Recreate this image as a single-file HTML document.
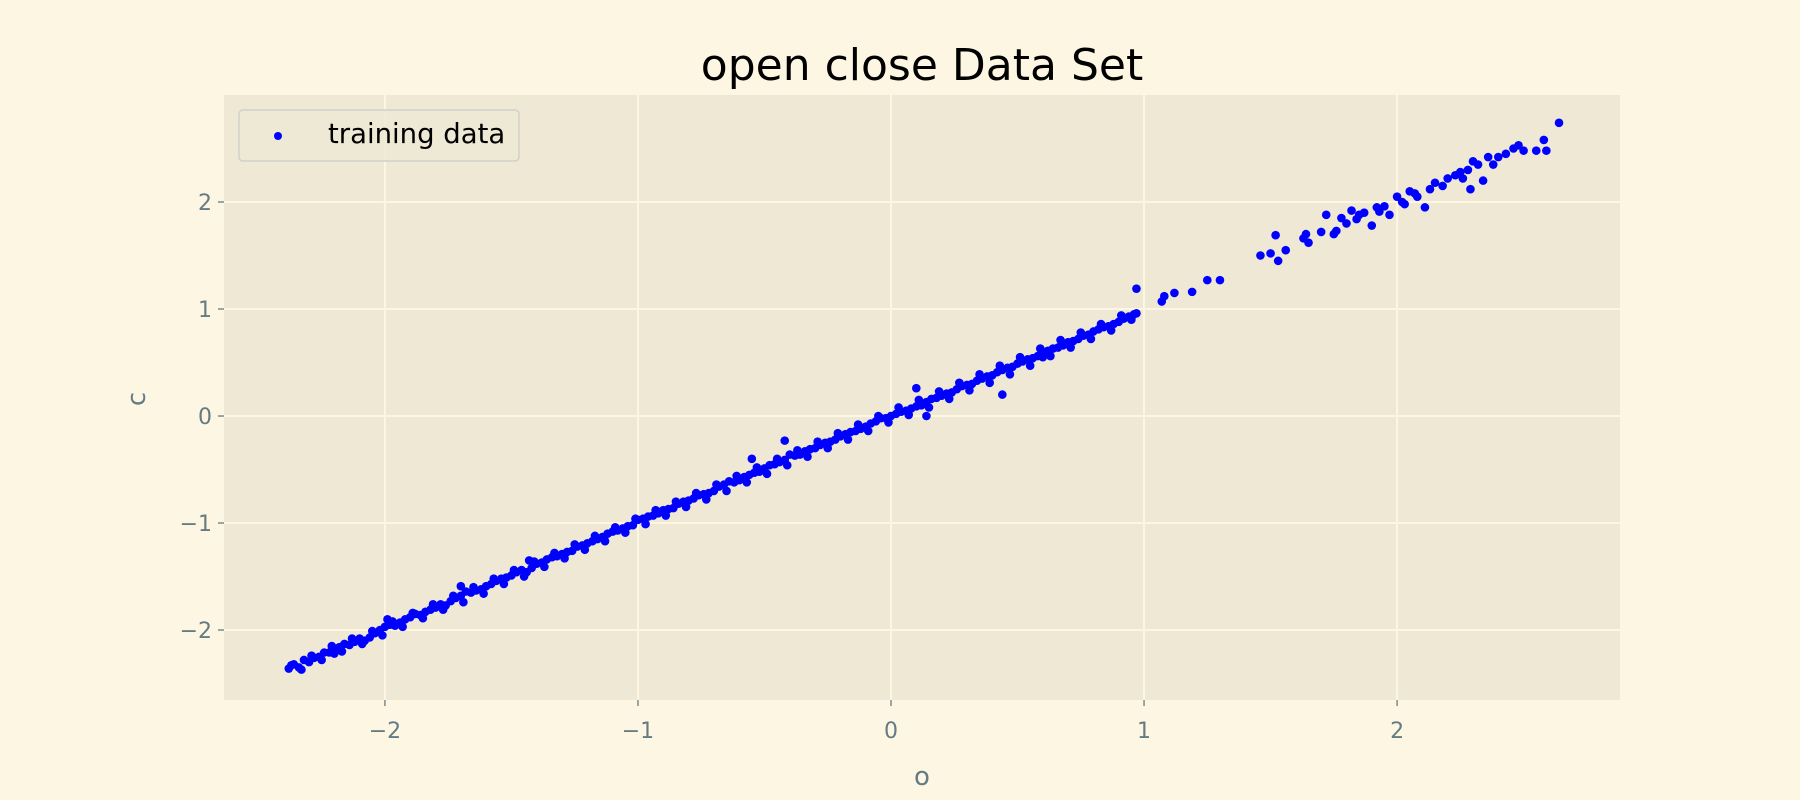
<!DOCTYPE html>
<html><head><meta charset="utf-8"><style>
body{margin:0;background:#fdf6e3;}
svg{display:block;font-family:"DejaVu Sans","Liberation Sans",sans-serif;}
</style></head><body>
<svg id="chart" width="1800" height="800" viewBox="0 0 1800 800">
<rect width="1800" height="800" fill="#fdf6e3"/>
<rect x="224" y="95" width="1396" height="605" fill="#eee8d5"/>
<g id="grid"></g>
<g id="ticks"></g>
<g id="points"></g>
<text x="922" y="80" text-anchor="middle" font-size="44" fill="#000">open close Data Set</text>
<text x="922" y="785" text-anchor="middle" font-size="26" fill="#657b83">o</text>
<text x="145" y="399" text-anchor="middle" font-size="26" fill="#657b83" transform="rotate(-90 145 399)">c</text>
<g>
<rect x="239" y="110" width="280" height="51" rx="4" fill="#eee8d5" fill-opacity="0.8" stroke="#d0d0cc" stroke-width="1.5"/>
<circle cx="278" cy="136" r="4" fill="#0000ff"/>
<text x="328" y="143" font-size="27.5" fill="#000">training data</text>
</g>
</svg>
<script>
const xTicks=[-2,-1,0,1,2];
const yTicks=[-2,-1,0,1,2];
const openVals=[-2.38,-2.34,-2.30,-2.26,-2.22,-2.18,-2.14,-2.10,-2.06,-2.02,-1.98,-1.94,-1.90,-1.86,-1.82,-1.78,-1.74,-1.70,-1.66,-1.62,-1.58,-1.54,-1.50,-1.46,-1.42,-1.38,-1.34,-1.30,-1.26,-1.22,-1.18,-1.14,-1.10,-1.06,-1.02,-0.98,-0.94,-0.90,-0.86,-0.82,-0.78,-0.74,-0.70,-0.66,-0.62,-0.58,-0.54,-0.50,-0.46,-0.42,-0.38,-0.34,-0.30,-0.26,-0.22,-0.18,-0.14,-0.10,-0.06,-0.02,0.02,0.06,0.10,0.14,0.18,0.22,0.26,0.30,0.34,0.38,0.42,0.46,0.50,0.54,0.58,0.62,0.66,0.70,0.74,0.78,0.82,0.86,0.90,0.94,0.97,
-2.36,-2.32,-2.28,-2.24,-2.20,-2.16,-2.12,-2.08,-2.04,-2.00,-1.96,-1.92,-1.88,-1.84,-1.80,-1.76,-1.72,-1.68,-1.64,-1.60,-1.56,-1.52,-1.48,-1.44,-1.40,-1.36,-1.32,-1.28,-1.24,-1.20,-1.16,-1.12,-1.08,-1.04,-1.00,-0.96,-0.92,-0.88,-0.84,-0.80,-0.76,-0.72,-0.68,-0.64,-0.60,-0.56,-0.52,-0.48,-0.44,-0.40,-0.36,-0.32,-0.28,-0.24,-0.20,-0.16,-0.12,-0.08,-0.04,0.00,0.04,0.08,0.12,0.16,0.20,0.24,0.28,0.32,0.36,0.40,0.44,0.48,0.52,0.56,0.60,0.64,0.68,0.72,0.76,0.80,0.84,0.88,0.92,0.96,
-2.37,-2.33,-2.29,-2.25,-2.21,-2.17,-2.13,-2.09,-2.05,-2.01,-1.97,-1.93,-1.89,-1.85,-1.81,-1.77,-1.73,-1.69,-1.65,-1.61,-1.57,-1.53,-1.49,-1.45,-1.41,-1.37,-1.33,-1.29,-1.25,-1.21,-1.17,-1.13,-1.09,-1.05,-1.01,-0.97,-0.93,-0.89,-0.85,-0.81,-0.77,-0.73,-0.69,-0.65,-0.61,-0.57,-0.53,-0.49,-0.45,-0.41,-0.37,-0.33,-0.29,-0.25,-0.21,-0.17,-0.13,-0.09,-0.05,-0.01,0.03,0.07,0.11,0.15,0.19,0.23,0.27,0.31,0.35,0.39,0.43,0.47,0.51,0.55,0.59,0.63,0.67,0.71,0.75,0.79,0.83,0.87,0.91,0.95,
-2.20,-1.99,-1.70,-1.43,-0.55,-0.42,0.10,0.44,0.14,0.60,
0.97,1.07,1.08,1.12,1.19,1.25,1.30,1.46,1.50,1.52,1.53,1.56,1.63,1.64,
1.65,1.70,1.72,1.75,1.78,1.80,1.82,1.85,1.87,1.90,1.92,1.95,1.97,2.00,2.02,2.05,2.08,2.11,2.13,2.15,2.20,2.23,2.26,2.28,2.29,2.30,2.32,2.34,2.36,2.40,2.43,2.46,2.48,2.50,2.55,2.58,2.59,2.64,1.84,1.93,2.03,2.07,2.18,2.25,2.38,1.76];
const closeVals=[-2.36,-2.35,-2.30,-2.25,-2.21,-2.16,-2.14,-2.08,-2.07,-2.00,-1.95,-1.93,-1.88,-1.86,-1.81,-1.76,-1.73,-1.68,-1.65,-1.62,-1.57,-1.52,-1.49,-1.44,-1.42,-1.37,-1.32,-1.29,-1.26,-1.21,-1.17,-1.13,-1.08,-1.05,-1.02,-0.96,-0.93,-0.88,-0.86,-0.80,-0.77,-0.73,-0.70,-0.64,-0.62,-0.57,-0.53,-0.49,-0.45,-0.41,-0.37,-0.33,-0.30,-0.25,-0.22,-0.17,-0.14,-0.10,-0.05,-0.02,0.02,0.05,0.09,0.13,0.17,0.21,0.25,0.29,0.33,0.37,0.41,0.45,0.49,0.53,0.56,0.61,0.64,0.69,0.72,0.76,0.81,0.84,0.88,0.93,0.96,
-2.32,-2.28,-2.26,-2.21,-2.19,-2.13,-2.11,-2.10,-2.03,-1.97,-1.96,-1.90,-1.85,-1.83,-1.79,-1.77,-1.70,-1.64,-1.63,-1.59,-1.54,-1.51,-1.46,-1.46,-1.38,-1.34,-1.31,-1.27,-1.22,-1.19,-1.15,-1.10,-1.07,-1.03,-0.97,-0.94,-0.91,-0.87,-0.82,-0.79,-0.74,-0.72,-0.66,-0.61,-0.60,-0.55,-0.52,-0.46,-0.43,-0.36,-0.36,-0.31,-0.27,-0.24,-0.19,-0.15,-0.12,-0.07,-0.02,0.00,0.04,0.07,0.10,0.16,0.19,0.22,0.28,0.30,0.35,0.38,0.43,0.46,0.51,0.54,0.58,0.63,0.66,0.70,0.75,0.79,0.83,0.86,0.91,0.95,
-2.33,-2.37,-2.24,-2.28,-2.15,-2.20,-2.08,-2.13,-2.01,-2.05,-1.92,-1.97,-1.84,-1.89,-1.76,-1.81,-1.68,-1.74,-1.60,-1.66,-1.52,-1.57,-1.44,-1.50,-1.36,-1.41,-1.28,-1.33,-1.20,-1.25,-1.12,-1.17,-1.04,-1.09,-0.96,-1.01,-0.88,-0.93,-0.80,-0.85,-0.72,-0.78,-0.64,-0.70,-0.56,-0.62,-0.48,-0.54,-0.40,-0.46,-0.32,-0.38,-0.24,-0.30,-0.16,-0.22,-0.08,-0.14,0.00,-0.06,0.08,0.01,0.15,0.08,0.23,0.16,0.31,0.24,0.39,0.31,0.47,0.39,0.55,0.47,0.63,0.56,0.71,0.64,0.78,0.72,0.86,0.80,0.94,0.90,
-2.22,-1.90,-1.59,-1.35,-0.40,-0.23,0.26,0.20,0.00,0.55,
1.19,1.07,1.12,1.15,1.16,1.27,1.27,1.50,1.52,1.69,1.45,1.55,1.66,1.70,
1.62,1.72,1.88,1.70,1.85,1.80,1.92,1.88,1.90,1.78,1.95,1.96,1.88,2.05,2.00,2.10,2.05,1.95,2.12,2.18,2.22,2.25,2.22,2.30,2.12,2.38,2.35,2.20,2.42,2.42,2.45,2.50,2.53,2.48,2.48,2.58,2.48,2.74,1.84,1.91,1.98,2.08,2.15,2.28,2.35,1.73];
const X0=224,X1=1620,Y0=95,Y1=700;
const xMin=-2.636,xMax=2.881,yMin=-2.654,yMax=3.0;
function sx(v){return X0+(v-xMin)/(xMax-xMin)*(X1-X0);}
function sy(v){return Y1-(v-yMin)/(yMax-yMin)*(Y1-Y0);}
const NS='http://www.w3.org/2000/svg';
const grid=document.getElementById('grid'),ticks=document.getElementById('ticks'),pts=document.getElementById('points');
function mk(tag,attrs,parent){const e=document.createElementNS(NS,tag);for(const k in attrs)e.setAttribute(k,attrs[k]);parent.appendChild(e);return e;}
function lab(v){return v<0?'\u2212'+Math.abs(v):String(v);}
xTicks.forEach(v=>{const x=sx(v);
 const g=mk('line',{x1:x,x2:x,y1:Y0,y2:Y1,stroke:'#fdf6e3','stroke-width':2},grid);
 
 
 const t=mk('line',{x1:x,x2:x,y1:Y1,y2:Y1+6,stroke:'#657b83','stroke-width':1.3},ticks);
 
 
 const l=mk('text',{x:x,y:738,'text-anchor':'middle','font-size':22,fill:'#657b83'},ticks);l.textContent=lab(v);
 
 
});
yTicks.forEach(v=>{const y=sy(v);
 const g=mk('line',{x1:X0,x2:X1,y1:y,y2:y,stroke:'#fdf6e3','stroke-width':2},grid);
 
 
 const t=mk('line',{x1:X0-6,x2:X0,y1:y,y2:y,stroke:'#657b83','stroke-width':1.3},ticks);
 
 
 const l=mk('text',{x:X0-12,y:y+8,'text-anchor':'end','font-size':22,fill:'#657b83'},ticks);l.textContent=lab(v);
 
 
});
openVals.forEach((o,i)=>{
 const c=mk('circle',{cx:sx(o),cy:sy(closeVals[i]),r:4.3,fill:'#0000ff'},pts);
 
 
});
</script>
</body></html>
